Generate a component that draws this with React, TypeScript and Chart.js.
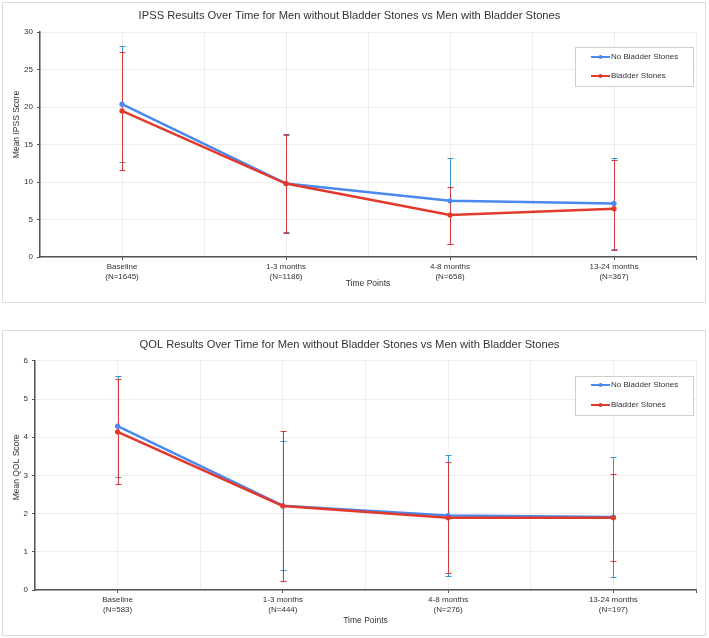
import React, { useEffect, useRef } from "react";
import { Chart, registerables } from "chart.js";
Chart.register(...registerables);

const timePoints = ["Baseline", "1-3 months", "4-8 months", "13-24 months"];
const ipssN = ["(N=1645)", "(N=1186)", "(N=658)", "(N=367)"];
const qolN = ["(N=583)", "(N=444)", "(N=276)", "(N=197)"];
const seriesNames = ["No Bladder Stones", "Bladder Stones"];

const ipssNoStones = [20.4, 9.8, 7.5, 7.15];
const ipssNoStonesLow = [12.7, 3.3, 1.8, 1.1];
const ipssNoStonesHigh = [28.1, 16.3, 13.2, 13.2];
const ipssStones = [19.5, 9.8, 5.6, 6.45];
const ipssStonesLow = [11.6, 3.2, 1.7, 1.0];
const ipssStonesHigh = [27.4, 16.4, 9.3, 13.0];

const qolNoStones = [4.29, 2.21, 1.95, 1.91];
const qolNoStonesLow = [2.95, 0.52, 0.37, 0.33];
const qolNoStonesHigh = [5.61, 3.89, 3.53, 3.48];
const qolStones = [4.14, 2.2, 1.89, 1.89];
const qolStonesLow = [2.77, 0.24, 0.44, 0.75];
const qolStonesHigh = [5.52, 4.17, 3.35, 3.03];

const ipssMax = 30;
const ipssStep = 5;
const qolMax = 6;
const qolStep = 1;

const FONT = "'Liberation Sans', Arial, sans-serif";
const BLUE = "#4a89f0";
const RED = "#e2392d";
const BLUE_ERR = "#3a92d0";
const RED_ERR = "#d63a3a";
const TEXT = "#333333";

const errorBarPlugin = {
  id: "errorBars",
  beforeDatasetsDraw(chart: any) {
    const ctx = chart.ctx;
    const xs = chart.scales.x;
    const ys = chart.scales.y;
    chart.data.datasets.forEach((ds: any) => {
      ctx.save();
      ctx.strokeStyle = ds.errColor;
      ctx.lineWidth = 1;
      ds.data.forEach((pt: any, j: number) => {
        const px = Math.round(xs.getPixelForValue(pt.x)) + 0.5;
        const yl = Math.round(ys.getPixelForValue(ds.errLow[j])) + 0.5;
        const yh = Math.round(ys.getPixelForValue(ds.errHigh[j])) + 0.5;
        ctx.beginPath();
        ctx.moveTo(px, yl);
        ctx.lineTo(px, yh);
        ctx.moveTo(px - 3, yl);
        ctx.lineTo(px + 3, yl);
        ctx.moveTo(px - 3, yh);
        ctx.lineTo(px + 3, yh);
        ctx.stroke();
      });
      ctx.restore();
    });
  },
};

const boxLegendPlugin = {
  id: "boxLegend",
  afterDraw(chart: any) {
    const ctx = chart.ctx;
    const area = chart.chartArea;
    const w = 118;
    const h = 39;
    const left = area.right - 3 - w;
    const top = area.top + 15;
    ctx.save();
    ctx.fillStyle = "#ffffff";
    ctx.fillRect(left, top, w, h);
    ctx.strokeStyle = "#cfcfcf";
    ctx.lineWidth = 1;
    ctx.strokeRect(Math.round(left) + 0.5, Math.round(top) + 0.5, w, h);
    [0, 1].forEach((i) => {
      const ds = chart.data.datasets[i];
      const cy = Math.round(top + 9.5 + i * 19.5);
      ctx.strokeStyle = ds.borderColor;
      ctx.lineWidth = 2;
      ctx.beginPath();
      ctx.moveTo(left + 16, cy);
      ctx.lineTo(left + 35, cy);
      ctx.stroke();
      ctx.fillStyle = ds.borderColor;
      ctx.beginPath();
      ctx.arc(left + 25.5, cy, 2, 0, Math.PI * 2);
      ctx.fill();
      ctx.fillStyle = TEXT;
      ctx.font = `8px ${FONT}`;
      ctx.textBaseline = "middle";
      ctx.textAlign = "left";
      ctx.fillText(ds.label, left + 36, cy);
    });
    ctx.restore();
  },
};

const yTitlePlugin = {
  id: "yTitleText",
  afterDraw(chart: any, _args: any, opts: any) {
    const ctx = chart.ctx;
    const area = chart.chartArea;
    const cy = area.top + opts.frac * (area.bottom - area.top);
    ctx.save();
    ctx.translate(opts.x, cy);
    ctx.rotate(-Math.PI / 2);
    ctx.fillStyle = TEXT;
    ctx.font = `8.5px ${FONT}`;
    ctx.textAlign = "center";
    ctx.textBaseline = "middle";
    ctx.fillText(opts.text, 0, 0);
    ctx.restore();
  },
};

type PanelProps = {
  title: string;
  yTitle: string;
  yTitleFrac: number;
  nLabels: string[];
  noStones: number[];
  noLow: number[];
  noHigh: number[];
  stones: number[];
  stLow: number[];
  stHigh: number[];
  yMax: number;
  yStep: number;
  width: number;
  height: number;
  yWidth: number;
  xHeight: number;
  xTitlePad: number;
  titleTop: number;
  titleBottom: number;
};

function Panel(p: PanelProps) {
  const ref = useRef<HTMLCanvasElement | null>(null);
  useEffect(() => {
    if (!ref.current) return;
    const toPts = (arr: number[]) => arr.map((v, i) => ({ x: i, y: v }));
    const chart = new Chart(ref.current, {
      type: "line",
      data: {
        datasets: [
          {
            label: seriesNames[0],
            data: toPts(p.noStones),
            borderColor: BLUE,
            backgroundColor: BLUE,
            pointBackgroundColor: BLUE,
            pointBorderColor: BLUE,
            borderWidth: 2.5,
            pointRadius: 2.6,
            pointBorderWidth: 0,
            order: 1,
            errLow: p.noLow,
            errHigh: p.noHigh,
            errColor: BLUE_ERR,
          } as any,
          {
            label: seriesNames[1],
            data: toPts(p.stones),
            borderColor: RED,
            backgroundColor: RED,
            pointBackgroundColor: RED,
            pointBorderColor: RED,
            borderWidth: 2.5,
            pointRadius: 2.6,
            pointBorderWidth: 0,
            order: 0,
            errLow: p.stLow,
            errHigh: p.stHigh,
            errColor: RED_ERR,
          } as any,
        ],
      },
      options: {
        responsive: false,
        animation: false,
        layout: { padding: { left: 0, right: 9, top: 0, bottom: 0 } },
        plugins: {
          legend: { display: false },
          tooltip: { enabled: false },
          title: {
            display: true,
            text: p.title,
            color: TEXT,
            font: { family: FONT, size: 11.2, weight: "normal" },
            padding: { top: p.titleTop, bottom: p.titleBottom },
          },
          yTitleText: { text: p.yTitle, frac: p.yTitleFrac, x: 14 },
        },
        scales: {
          x: {
            type: "linear",
            min: -0.5,
            max: timePoints.length - 0.5,
            afterFit: (s: any) => {
              s.height = p.xHeight;
            },
            ticks: {
              stepSize: 0.5,
              autoSkip: false,
              maxRotation: 0,
              minRotation: 0,
              padding: 2,
              color: TEXT,
              font: { family: FONT, size: 8, lineHeight: 1.2 },
              callback: (v: any) => {
                const n = Number(v);
                if (Number.isInteger(n) && n >= 0 && n < timePoints.length) {
                  return [timePoints[n], p.nLabels[n]];
                }
                return "";
              },
            },
            grid: {
              color: "rgba(0,0,0,0.065)",
              tickLength: 3,
              tickColor: (c: any) => {
                const n = c.tick ? c.tick.value : 0;
                return Number.isInteger(n) || n === timePoints.length - 0.5 ? "#555" : "rgba(0,0,0,0)";
              },
            },
            border: { display: true, color: "#555", width: 1.5 },
            title: {
              display: true,
              text: "Time Points",
              color: TEXT,
              font: { family: FONT, size: 8.5 },
              padding: { top: 0, bottom: p.xTitlePad },
            },
          },
          y: {
            min: 0,
            max: p.yMax,
            afterFit: (s: any) => {
              s.width = p.yWidth;
            },
            ticks: {
              stepSize: p.yStep,
              padding: 4,
              color: TEXT,
              font: { family: FONT, size: 8 },
            },
            grid: {
              color: "rgba(0,0,0,0.065)",
              tickLength: 3,
              tickColor: "#555",
            },
            border: { display: true, color: "#555", width: 1.5 },
            title: { display: false },
          },
        },
      },
      plugins: [errorBarPlugin, boxLegendPlugin, yTitlePlugin],
    } as any);
    return () => chart.destroy();
  }, []);
  return <canvas ref={ref} width={p.width} height={p.height} style={{ display: "block" }} />;
}

export default function App() {
  return (
    <div style={{ position: "absolute", left: 0, top: 0, width: 709, height: 638, background: "#fff" }}>
      <div
        style={{
          position: "absolute",
          left: 2,
          top: 2,
          width: 702,
          height: 299,
          border: "1px solid #dcdcdc",
        }}
      >
        <Panel
          title="IPSS Results Over Time for Men without Bladder Stones vs Men with Bladder Stones"
          yTitle="Mean IPSS Score"
          yTitleFrac={0.41}
          nLabels={ipssN}
          noStones={ipssNoStones}
          noLow={ipssNoStonesLow}
          noHigh={ipssNoStonesHigh}
          stones={ipssStones}
          stLow={ipssStonesLow}
          stHigh={ipssStonesHigh}
          yMax={ipssMax}
          yStep={ipssStep}
          width={702}
          height={299}
          yWidth={37}
          xHeight={45}
          xTitlePad={13.6}
          titleTop={6.4}
          titleBottom={9.4}
        />
      </div>
      <div
        style={{
          position: "absolute",
          left: 2,
          top: 330,
          width: 702,
          height: 304,
          border: "1px solid #dcdcdc",
        }}
      >
        <Panel
          title="QOL Results Over Time for Men without Bladder Stones vs Men with Bladder Stones"
          yTitle="Mean QOL Score"
          yTitleFrac={0.464}
          nLabels={qolN}
          noStones={qolNoStones}
          noLow={qolNoStonesLow}
          noHigh={qolNoStonesHigh}
          stones={qolStones}
          stLow={qolStonesLow}
          stHigh={qolStonesHigh}
          yMax={qolMax}
          yStep={qolStep}
          width={702}
          height={304}
          yWidth={32}
          xHeight={45}
          xTitlePad={8.9}
          titleTop={7.1}
          titleBottom={9.4}
        />
      </div>
    </div>
  );
}
